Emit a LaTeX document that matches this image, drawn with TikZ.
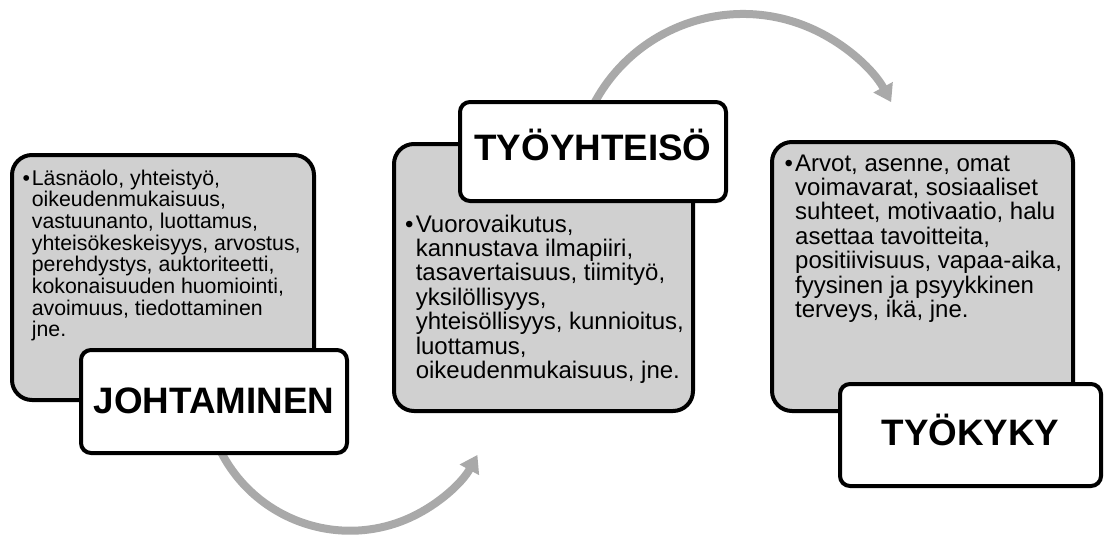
\documentclass[tikz,border=0pt]{standalone}
\usepackage{fontspec}
\setmainfont{Liberation Sans}
\usetikzlibrary{arrows.meta}
\definecolor{boxgray}{HTML}{D0D0D0}
\definecolor{arrowgray}{HTML}{A9A9A9}
% #1 font size, #2 line spacing, #3 bullet indent, #4 text
\newcommand{\bulletlist}[4]{\parbox[t]{300pt}{\fontsize{#1}{#2}\selectfont\hangindent=#3\hangafter=1\noindent\makebox[#3][l]{•}#4}}
\tikzset{
  infobox/.style={draw=black, line width=4pt, fill=boxgray, rounded corners=20pt, inner sep=0pt},
  titlebox/.style={draw=black, line width=4pt, fill=white, rounded corners=10pt, inner sep=0pt,
    font=\fontsize{36.8pt}{40pt}\selectfont\bfseries, text height=26.3pt, text depth=0pt},
  listtext/.style={inner sep=0pt, anchor=base west},
  flowarrow/.style={draw=arrowgray, line width=8pt, -{Triangle[length=17pt, width=21pt]}}
}
\begin{document}
\begin{tikzpicture}[x=1pt,y=1pt]
\useasboundingbox (0,0) rectangle (1105,-536);
% curved arrows (behind the boxes)
\coordinate (ctop) at (743,-182.6);
\coordinate (cbot) at (350,-385.7);
\coordinate (topstart) at ([shift={(155:168.6)}]ctop);
\coordinate (botstart) at ([shift={(205:145)}]cbot);
\draw[flowarrow] (topstart) arc[start angle=155, end angle=28.5, radius=168.6];
\draw[flowarrow] (botstart) arc[start angle=205, end angle=331.5, radius=145];
% grey content boxes
\node[infobox, minimum width=302pt, minimum height=245pt] (box1) at (163,-277.5) {};
\node[infobox, minimum width=299pt, minimum height=267pt] (box2) at (543.5,-277.5) {};
\node[infobox, minimum width=301pt, minimum height=269pt] (box3) at (922.5,-276.5) {};
% texts
\node[listtext] (text1) at (22.3,-185) {\bulletlist{21.3pt}{21.7pt}{9.4pt}{Läsnäolo, yhteistyö,\\
oikeudenmukaisuus,\\
vastuunanto, luottamus,\\
yhteisökeskeisyys, arvostus,\\
perehdystys, auktoriteetti,\\
kokonaisuuden huomiointi,\\
avoimuus, tiedottaminen\\
jne.}};
\node[listtext] (text2) at (405,-232) {\bulletlist{24pt}{24.4pt}{10.6pt}{Vuorovaikutus,\\
kannustava ilmapiiri,\\
tasavertaisuus, tiimityö,\\
yksilöllisyys,\\
yhteisöllisyys, kunnioitus,\\
luottamus,\\
oikeudenmukaisuus, jne.}};
\node[listtext] (text3) at (784.4,-171) {\bulletlist{24pt}{24.4pt}{10.6pt}{Arvot, asenne, omat\\
voimavarat, sosiaaliset\\
suhteet, motivaatio, halu\\
asettaa tavoitteita,\\
positiivisuus, vapaa-aika,\\
fyysinen ja psyykkinen\\
terveys, ikä, jne.}};
% title boxes
\node[titlebox, minimum width=266pt, minimum height=103pt] (title1) at (214,-401.5) {\raisebox{1pt}{JOHTAMINEN}};
\node[titlebox, minimum width=266pt, minimum height=99pt] (title2) at (593,-151.5) {\raisebox{4pt}{TYÖYHTEISÖ}};
\node[titlebox, minimum width=261pt, minimum height=102pt] (title3) at (970.5,-435) {\raisebox{2.5pt}{TYÖKYKY}};
\end{tikzpicture}
\end{document}
